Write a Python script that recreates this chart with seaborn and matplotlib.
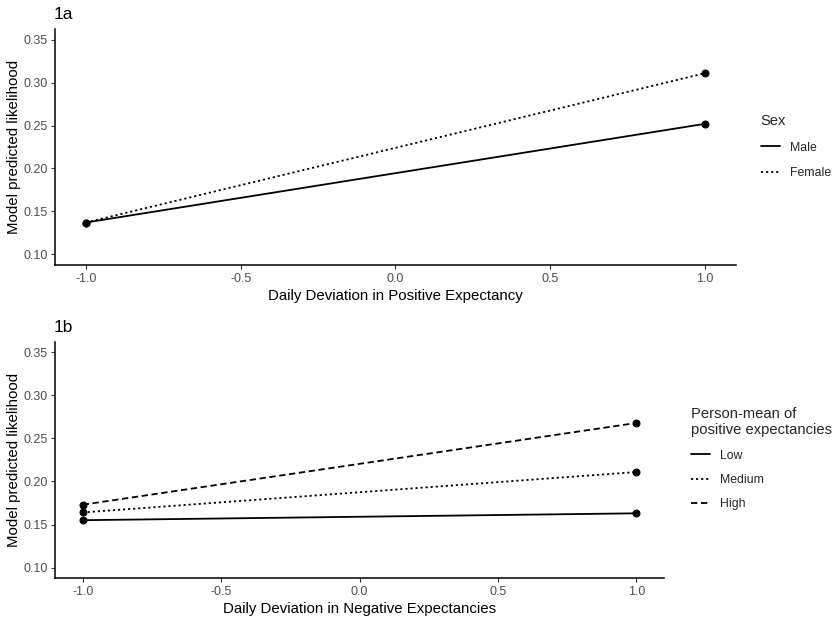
import matplotlib
matplotlib.use("Agg")
import matplotlib.pyplot as plt
from matplotlib.lines import Line2D
import seaborn as sns
import pandas as pd

sns.set_theme(style="ticks")
plt.rcParams['font.family'] = ['Liberation Sans', 'DejaVu Sans']

# Data
x_vals = [-1.0, 1.0]
sex_levels = ["Male", "Female"]
male_vals = [0.137, 0.252]
female_vals = [0.137, 0.311]

pm_levels = ["Low", "Medium", "High"]
low_vals = [0.155, 0.163]
medium_vals = [0.164, 0.211]
high_vals = [0.173, 0.268]

x_ticks = [-1.0, -0.5, 0.0, 0.5, 1.0]
y_ticks = [0.10, 0.15, 0.20, 0.25, 0.30, 0.35]

df_a = pd.DataFrame({
    "x": x_vals * 2,
    "y": male_vals + female_vals,
    "Sex": ["Male"] * 2 + ["Female"] * 2,
})
df_b = pd.DataFrame({
    "x": x_vals * 3,
    "y": low_vals + medium_vals + high_vals,
    "grp": ["Low"] * 2 + ["Medium"] * 2 + ["High"] * 2,
})

fig = plt.figure(figsize=(8.35, 6.21), dpi=100)
ax1 = fig.add_axes([0.0659, 0.5733, 0.8155, 0.3800])
ax2 = fig.add_axes([0.0659, 0.0688, 0.7293, 0.3810])

dash_a = ["", (1.2, 1.6)]
dash_b = ["", (1.2, 1.6), (3.5, 2.0)]
tick_col = "#4D4D4D"

def style_ax(ax, xlabel, title):
    ax.set_xlim(-1.1, 1.1)
    ax.set_ylim(0.0875, 0.3625)
    ax.set_xticks(x_ticks)
    ax.set_xticklabels([f"{v:.1f}" for v in x_ticks])
    ax.set_yticks(y_ticks)
    ax.set_yticklabels([f"{v:.2f}" for v in y_ticks])
    ax.tick_params(axis="both", labelsize=9, labelcolor=tick_col, color="#333333",
                   length=3, width=0.8, pad=2.5)
    for s in ["top", "right"]:
        ax.spines[s].set_visible(False)
    for s in ["left", "bottom"]:
        ax.spines[s].set_color("black")
        ax.spines[s].set_linewidth(1.1)
    ax.set_xlabel(xlabel, fontsize=10.8, color="black", labelpad=3)
    ax.set_ylabel("Model predicted likelihood", fontsize=10.8, color="black", labelpad=1.5)
    ax.set_title(title, loc="left", fontsize=12.5, color="black", pad=7, x=-0.002)

sns.lineplot(data=df_a, x="x", y="y", style="Sex", style_order=sex_levels,
             dashes=dash_a, markers=["o", "o"], color="black", linewidth=1.3,
             markersize=5, markeredgecolor="black", ax=ax1, legend=False)
style_ax(ax1, "Daily Deviation in Positive Expectancy", "1a")

sns.lineplot(data=df_b, x="x", y="y", style="grp", style_order=pm_levels,
             dashes=dash_b, markers=["o", "o", "o"], color="black", linewidth=1.3,
             markersize=5, markeredgecolor="black", ax=ax2, legend=False)
style_ax(ax2, "Daily Deviation in Negative Expectancies", "1b")

def make_handles(levels, dashes):
    hs = []
    for lv, d in zip(levels, dashes):
        h = Line2D([0], [0], color="black", linewidth=1.3)
        if d != "":
            h.set_dashes(d)
        hs.append(h)
    return hs

leg1 = fig.legend(make_handles(sex_levels, dash_a), sex_levels, title="Sex",
                  loc="upper left", bbox_to_anchor=(0.898, 0.834), frameon=False,
                  fontsize=8.8, title_fontsize=10.6, handlelength=1.6, handletextpad=0.8,
                  labelspacing=1.1, alignment="left")
leg2 = fig.legend(make_handles(pm_levels, dash_b), pm_levels,
                  title="Person-mean of\npositive expectancies",
                  loc="upper left", bbox_to_anchor=(0.814, 0.362), frameon=False,
                  fontsize=8.8, title_fontsize=10.6, handlelength=1.6, handletextpad=0.8,
                  labelspacing=1.0, alignment="left")

fig.savefig("out.png", dpi=100)
